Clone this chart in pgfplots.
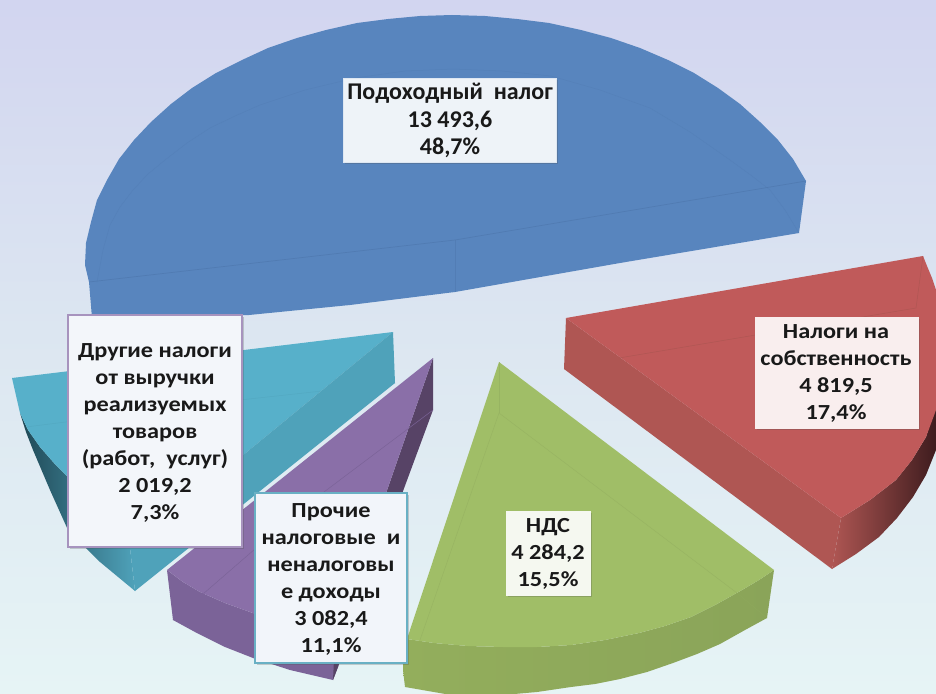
\documentclass[border=0pt]{standalone}
\usepackage{pgfplots}
\pgfplotsset{compat=1.18}
\usepackage{fontspec}
\setmainfont{Carlito}
\newfontfamily\labfont[FakeStretch=1.13]{Carlito}
\usetikzlibrary{shadows}
\definecolor{bgtop}{HTML}{D2D5F0}
\definecolor{bgmid}{HTML}{DCE6F1}
\definecolor{bgbot}{HTML}{E6F4F5}
\definecolor{blueA}{HTML}{5885BE}
\definecolor{blueL}{HTML}{4F79AF}
\definecolor{redT}{HTML}{C05A5A}
\definecolor{redF}{HTML}{AF5653}
\definecolor{redD}{HTML}{3E1C1E}
\definecolor{greenT}{HTML}{A0BE67}
\definecolor{greenS}{HTML}{93AE5C}
\definecolor{greenR}{HTML}{8AA459}
\definecolor{greenL}{HTML}{90AB5E}
\definecolor{purT}{HTML}{8A6FA8}
\definecolor{purS}{HTML}{7B6398}
\definecolor{purD}{HTML}{574366}
\definecolor{tealT}{HTML}{57B0CA}
\definecolor{tealF}{HTML}{4FA2BA}
\definecolor{tealD}{HTML}{1F4855}
\tikzset{box/.style={inner sep=0pt,drop shadow={shadow xshift=1.5pt,shadow yshift=-2pt,opacity=.25,fill=black!70}},
  lab/.style={align=center,inner sep=0pt,text=black!90,font=\labfont\fontsize{21.5}{27}\selectfont\bfseries},
  labB/.style={align=center,inner sep=0pt,text=black!90,font=\fontsize{24}{27.5}\selectfont\bfseries}}
\begin{document}
\begin{tikzpicture}
\begin{axis}[scale only axis,width=936pt,height=693pt,xmin=0,xmax=936,ymin=0,ymax=693,y dir=reverse,hide axis,no markers,clip=true]
% background
\addplot[draw=none,top color=bgtop,bottom color=bgmid] coordinates {(0,0)(936,0)(936,330)(0,330)} --cycle;
\addplot[draw=none,top color=bgmid,bottom color=bgbot] coordinates {(0,330)(936,330)(936,693)(0,693)} --cycle;
% blue: Подоходный налог 13493.6
\addplot[draw=none,fill=blueA] coordinates {(806,181)(793,159)(778,140)(760,122)(740,104)(718,88)(694,73)(668,60)(640,48)(611,38)(581,30)(549,23)(517,19)(485,16)(452,15)(420,16)(388,19)(357,23)(326,30)(297,38)(268,48)(242,60)(216,73)(192,88)(171,104)(151,122)(134,140)(119,159)(107,180)(97,200)(91,222)(86,243)(85,265)(89,282)(92,318)(249,315)(350,305)(455,292)(620,263)(799,233)} --cycle;
\addplot[blueL,line width=.7pt,opacity=.8] coordinates {(89,282)(455,240)(806,181)};
\addplot[blueL,line width=.6pt,opacity=.6] coordinates {(455,240)(455,292)};
\addplot[blueL,line width=.5pt,opacity=.35] coordinates {(97,282)(103,250)(110,225)(120,207)(133,190)(148,174)(165,160)(187,143)(210,128)(235,116)(260,105)(305,90)(355,78)(405,71)(453,69)(502,71)(551,76)(600,90)(650,108)(690,132)(730,160)(752,176)(770,190)(785,210)(799,233)};
% red: Налоги на собственность 4819.5
\addplot[draw=none,left color=redF,middle color=redF!75!redD,right color=redD] coordinates {(832,569)(856,554)(879,537)(897,518)(913,497)(926,475)(936,450)(936,405)(926,437)(912,460)(896,480)(870,500)(841,518)} --cycle;
\addplot[draw=none,fill=redF] coordinates {(566,318)(564,369)(832,569)(841,518)} --cycle;
\addplot[draw=none,fill=redT] coordinates {(566,318)(923,256)(927,266)(932,278)(936,290)(940,300)(940,395)(936,410)(926,437)(912,460)(896,480)(870,500)(841,518)} --cycle;
\addplot[redF,line width=.5pt] coordinates {(564,369)(619,358)(916,308)(923,256)};
% green: НДС 4284.2
\addplot[draw=none,left color=greenS,right color=greenR] coordinates {(774,570)(767,618)(745,630)(720,644)(697,654)(673,663)(647,672)(620,679)(595,684)(571,687)(537,692)(503,695)(451,695)(405,687)(403,670)(407,639)(434,643)(468,646)(503,647)(537,647)(571,645)(605,640)(639,633)(665,626)(691,617)(717,604)(742,590)(759,580)} --cycle;
\addplot[draw=none,fill=greenT] coordinates {(499,362)(774,570)(759,580)(742,590)(717,604)(691,617)(665,626)(639,633)(605,640)(571,645)(537,647)(503,647)(468,646)(434,643)(407,639)} --cycle;
\addplot[greenL,line width=.5pt,opacity=.5] coordinates {(420,640)(499,413)(737,593)(767,618)};
\addplot[greenL,line width=.5pt,opacity=.5] coordinates {(499,362)(499,413)};
% teal: Другие налоги 2019.2
\addplot[draw=none,left color=tealD,right color=tealF] coordinates {(20,413)(26,432)(33,450)(50,490)(68,530)(100,562)(135,591)(130,548)(100,515)(68,477)(54,463)(40,447)(28,430)} --cycle;
\addplot[draw=none,fill=tealT] coordinates {(12,378)(393,332)(130,548)(100,515)(68,477)(54,463)(40,447)(28,430)(20,413)} --cycle;
\addplot[draw=none,fill=tealF] coordinates {(393,332)(395,383)(135,591)(130,548)} --cycle;
\addplot[tealF,line width=.5pt,opacity=.5] coordinates {(26,427)(240,400)(395,383)};
% purple: Прочие 3082.4
\addplot[draw=none,fill=purS] coordinates {(167,570)(173,620)(195,632)(225,647)(253,658)(290,670)(333,680)(338,667)(345,640)(290,626)(250,612)(225,603)(200,592)(183,582)} --cycle;
\addplot[draw=none,fill=purD] coordinates {(433,358)(433,410)(338,667)(333,680)(335,640)} --cycle;
\addplot[draw=none,fill=purT] coordinates {(433,358)(167,570)(183,582)(200,592)(225,603)(250,612)(290,626)(335,640)} --cycle;
\addplot[purS,line width=.5pt] coordinates {(173,620)(300,510)(433,410)};
% label boxes
\node[box,draw=white!80!blueA,line width=.5pt,fill=white!90!blueA,minimum width=213pt,minimum height=84pt] at (axis cs:449.5,120) {};
\node[box,draw=white!90!redT,line width=.5pt,fill=white!90!redT,minimum width=163pt,minimum height=111pt] at (axis cs:836.5,372.5) {};
\node[box,draw=white!90!greenT,line width=.5pt,fill=white!90!greenT,minimum width=84pt,minimum height=84pt] at (axis cs:548,553) {};
\node[box,draw=tealF!85!white,line width=2.2pt,fill=white!92!blueA,minimum width=152pt,minimum height=170pt] at (axis cs:331,578) {};
\node[box,draw=purT!75!white,line width=2.2pt,fill=white!93!blueA,minimum width=174pt,minimum height=232pt] at (axis cs:155,431) {};
% label texts
\node[labB] at (axis cs:450,120.5) {Подоходный\ \ налог\\13 493,6\\48,7\%};
\node[lab] at (axis cs:836,373.5) {Налоги на\\собственность\\4 819,5\\17,4\%};
\node[lab] at (axis cs:548,554) {НДС\\4 284,2\\15,5\%};
\node[lab] at (axis cs:331,579.5) {Прочие\\налоговые\ \ и\\неналоговы\\е доходы\\3 082,4\\11,1\%};
\node[lab] at (axis cs:155,433) {Другие налоги\\от выручки\\реализуемых\\товаров\\(работ,\ \ услуг)\\2 019,2\\7,3\%};
\end{axis}
\end{tikzpicture}
\end{document}
